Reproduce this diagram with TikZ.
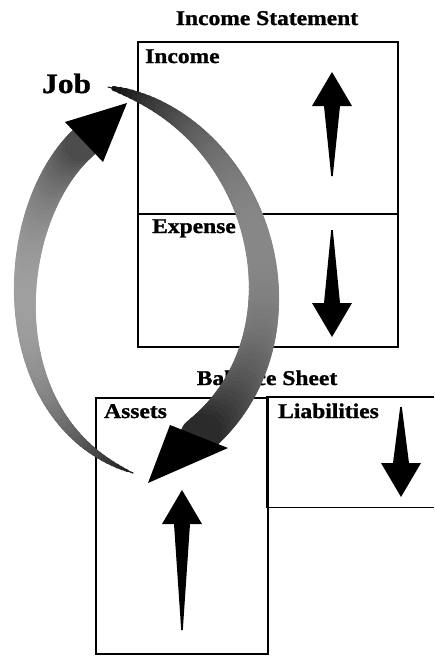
\documentclass[tikz,border=0pt]{standalone}
\usepackage{fontspec}
\setmainfont[BoldFeatures={FakeStretch=1.12, FakeBold=1.2}]{Liberation Serif}
\usetikzlibrary{calc,positioning}

\begin{document}
\begin{tikzpicture}[x=1pt, y=-1pt,
    every node/.style={font=\bfseries\fontsize{21}{23}\selectfont, inner sep=0pt},
    sheet/.style={draw, line width=1.6pt, anchor=north west}]
    \useasboundingbox (0,0) rectangle (434,656);
    % income statement
    \node[sheet, minimum width=260pt, minimum height=172pt] (income) at (137,41) {};
    \node[sheet, minimum width=260pt, minimum height=133pt] (expense) at (137,213) {};
    \node[anchor=base] (istitle) at (267,25) {Income Statement};
    \node[anchor=base west] (incometext) at ($(income.north west)+(8,22)$) {Income};
    \node[anchor=base west] (expensetext) at ($(expense.north west)+(15,20)$) {Expense};
    % balance sheet
    \node[sheet, minimum width=172pt, minimum height=256pt] (assets) at (95,397) {};
    \node[anchor=north west, minimum width=167pt, minimum height=110pt] (liab) at (267,397) {};
    \draw[line width=1.6pt] (liab.north east) -- (liab.north west) -- (liab.south west) -- (liab.south east);
    \node[anchor=base] (bstitle) at (267,385) {Balance Sheet};
    \node[anchor=base west] (assetstext) at ($(assets.north west)+(9,21)$) {Assets};
    \node[anchor=base west] (liabtext) at ($(liab.north west)+(11,21)$) {Liabilities};
    \node[anchor=base west, font=\bfseries\fontsize{28}{30}\selectfont] (job) at (42,93) {Job};
    % up and down arrows
    \foreach \x/\y/\s/\len in {332/72/1/104, 332/337/-1/107, 401/497/-1/90, 182/490/1/140}
      \fill[shift={(\x,\y)}, yscale=\s] (0,0) -- (20,34) -- (8,34) -- (0.8,\len) -- (-0.8,\len) -- (-8,34) -- (-20,34) -- cycle;
    % the job cycle
    \coordinate (jobout) at (108,87);
    \coordinate (assetsbase) at (199,436);
    \coordinate (assetsin) at (148,483);
    \coordinate (assetsout) at (133,473);
    \coordinate (jobbase) at (84,142);
    \coordinate (jobin) at (127,103);
    \foreach \i in {0,...,80}
      \path (jobout) .. controls (265,125) and (318,338) .. (assetsbase) coordinate[pos=\i/80] (r\i);
    \foreach \i [count=\j] in {0,...,79} {
      \pgfmathsetmacro\t{\i/80}
      \pgfmathsetmacro\w{1+37*sqrt(\t)}
      \pgfmathsetmacro\d{190*(\t-0.5)*(\t-1)-188*\t*(\t-1)+170*\t*(\t-0.5)}
      \draw[line width=\w pt, black!\d, line cap=round] (r\i) -- (r\j);
    }
    \fill (assetsin) -- (170,425) -- (228,448) -- cycle;
    \foreach \i in {0,...,80}
      \path (assetsout) .. controls (-7,420) and (3,216) .. (jobbase) coordinate[pos=\i/80] (l\i);
    \foreach \i [count=\j] in {0,...,79} {
      \pgfmathsetmacro\t{\i/80}
      \pgfmathsetmacro\w{1+32*(\t+0.001)^0.7}
      \pgfmathsetmacro\d{180*(\t-0.5)*(\t-1)-152*\t*(\t-1)+144*\t*(\t-0.5)}
      \draw[line width=\w pt, black!\d, line cap=round] (l\i) -- (l\j);
    }
    \fill (jobin) -- (65,122) -- (103,162) -- cycle;
\end{tikzpicture}
\end{document}
